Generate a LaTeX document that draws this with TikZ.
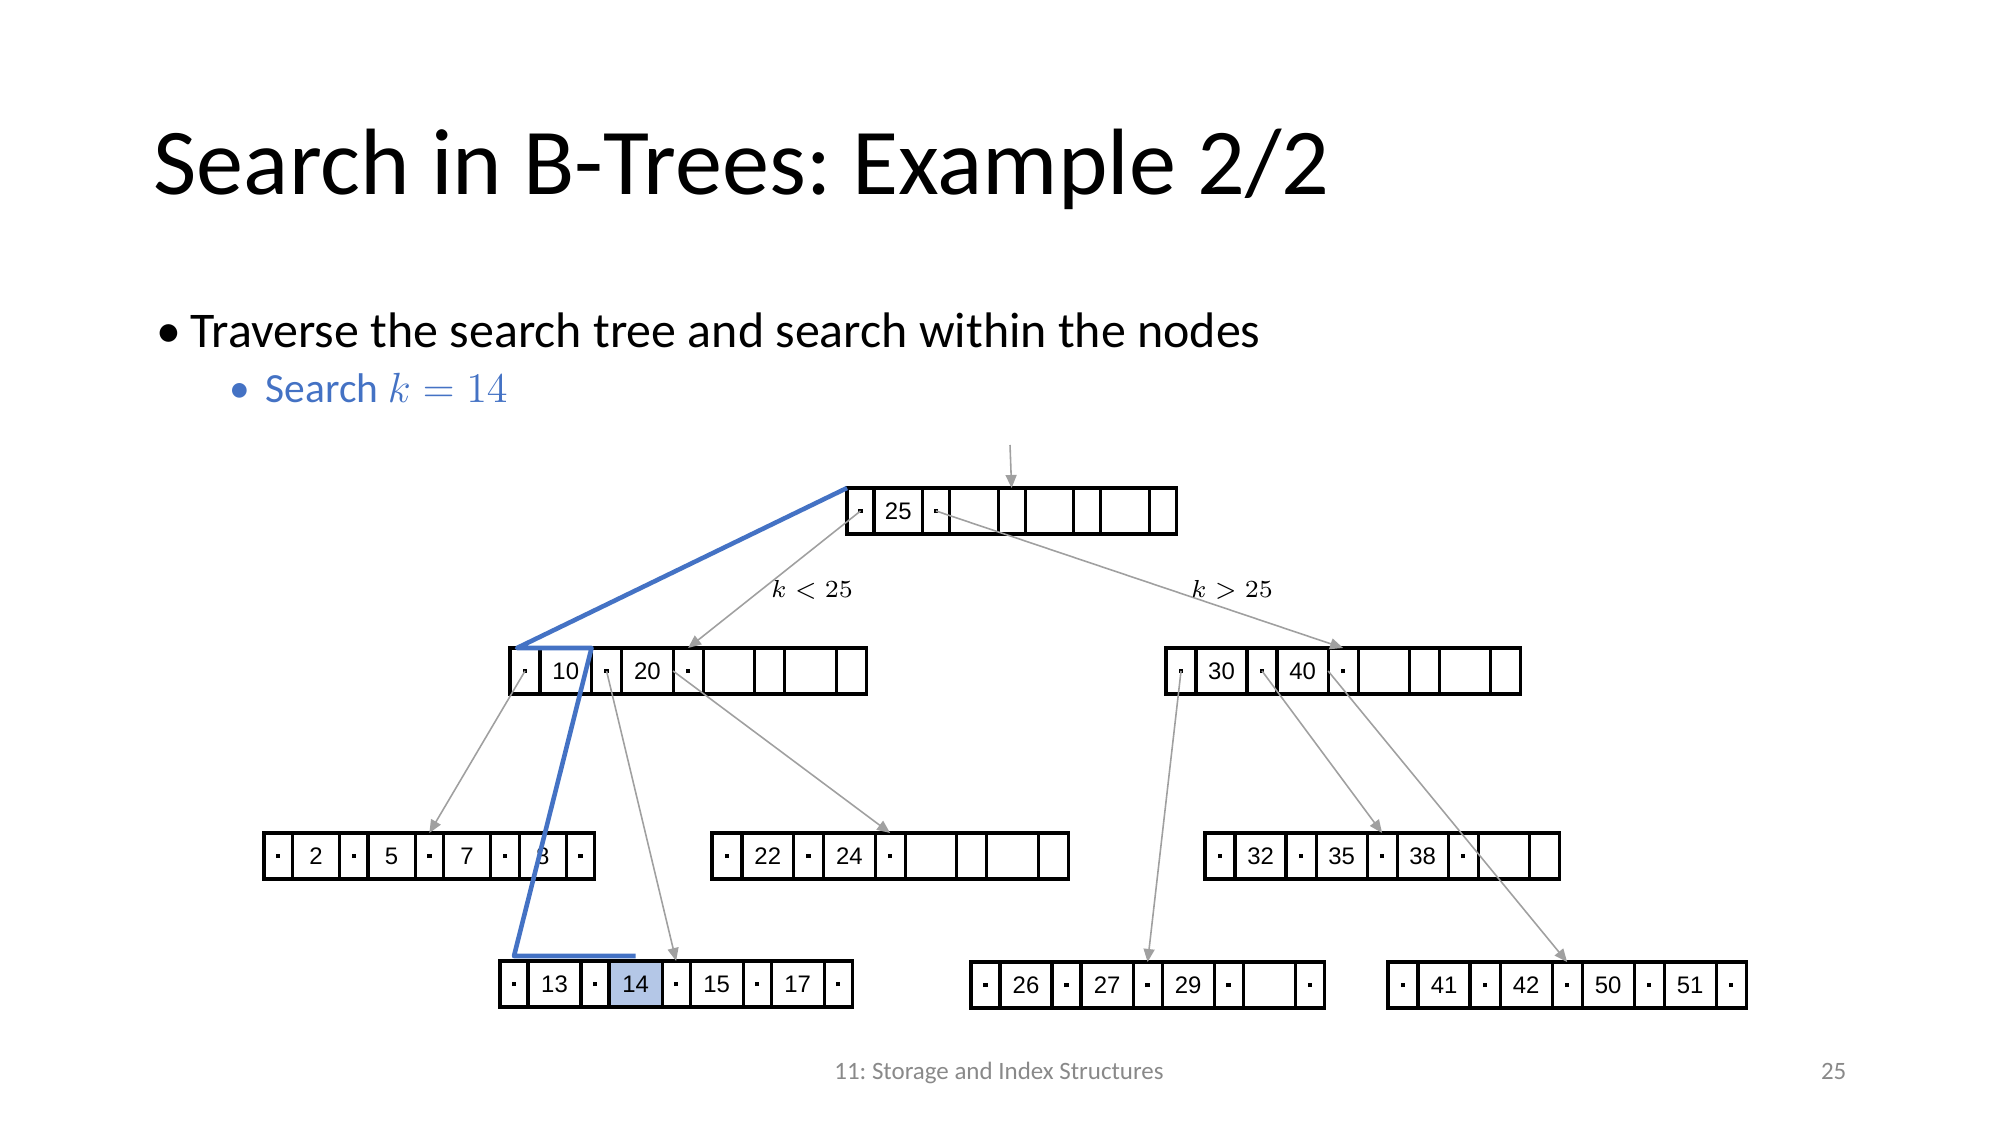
\documentclass[tikz,border=0pt]{standalone}
\usepackage{fontspec}
\setmainfont{Carlito}
\newfontfamily\cellfont{Liberation Sans}
\usetikzlibrary{positioning,arrows.meta,backgrounds}
\frenchspacing

\definecolor{pathblue}{RGB}{68,114,196}
\definecolor{linkgray}{RGB}{160,160,160}
\definecolor{hlblue}{RGB}{180,199,231}
\definecolor{footgray}{RGB}{137,137,137}

\tikzset{
  cell/.style={draw, line width=0.9pt, inner sep=0pt, outer sep=0pt, minimum height=0.46cm, font=\cellfont\fontsize{6.8}{8}\selectfont},
  link/.style={draw=linkgray, line width=0.45pt, -{Triangle[length=0.13cm,width=0.11cm]}},
  lbl/.style={font=\fontsize{6.9}{8}\selectfont},
  txt/.style={anchor=base west, inner sep=0pt},
  searchpath/.style={draw=pathblue, line width=1.3pt, line join=round},
}

% pointer dot
\newcommand{\pd}{\rule{1.25pt}{1.25pt}}

% one B-tree page: name, left x, centre y, pointer width, key width, 9 cells
\newcommand{\bnode}[6]{%
  \foreach \txt [count=\i from 0] in {#6}{%
    \ifnum\i=0
      \node[cell, minimum width=#4, anchor=west] (#1-0) at (#2,#3) {\txt};
    \else
      \pgfmathtruncatemacro{\prev}{\i-1}%
      \ifodd\i
        \node[cell, minimum width=#5, right=0pt of #1-\prev] (#1-\i) {\txt};
      \else
        \node[cell, minimum width=#4, right=0pt of #1-\prev] (#1-\i) {\txt};
      \fi
    \fi
  }%
}

\begin{document}
\begin{tikzpicture}[x=0.01cm, y=-0.01cm]
\useasboundingbox (0,0) rectangle (2000,1125);

\node[txt, font=\fontsize{26.8}{32}\selectfont] (title) at (153,195) {Search in B-Trees: Example 2/2};
\node[txt, font=\fontsize{14.2}{17}\selectfont] (b1) at (156,348) {•};
\node[txt, font=\fontsize{14.2}{17}\selectfont] (t1) at (190,348) {Traverse the search tree and search within the nodes};
\node[txt, font=\fontsize{11.8}{14}\selectfont, text=pathblue] (b2) at (229,403) {•};
\node[txt, font=\fontsize{11.8}{14}\selectfont, text=pathblue] (t2) at (265,403) {Search $k=14$};

\bnode{root}{847}{511}{0.27cm}{0.485cm}{\pd,25,\pd,{},{},{},{},{},{}}
\bnode{l2l}{510}{671}{0.30cm}{0.515cm}{\pd,10,\pd,20,\pd,{},{},{},{}}
\bnode{l2r}{1166}{671}{0.30cm}{0.51cm}{\pd,30,\pd,40,\pd,{},{},{},{}}
\bnode{l3l}{264}{856}{0.285cm}{0.47cm}{\pd,2,\pd,5,\pd,7,\pd,8,\pd}
\bnode{l3m}{712}{856}{0.30cm}{0.515cm}{\pd,22,\pd,24,\pd,{},{},{},{}}
\bnode{l3r}{1205}{856}{0.30cm}{0.51cm}{\pd,32,\pd,35,\pd,38,\pd,{},{}}
\bnode{leafl}{500}{984}{0.28cm}{0.53cm}{\pd,13,\pd,14,\pd,15,\pd,17,\pd}
\bnode{leafm}{971}{985}{0.29cm}{0.52cm}{\pd,26,\pd,27,\pd,29,\pd,{},\pd}
\bnode{leafr}{1388}{985}{0.30cm}{0.52cm}{\pd,41,\pd,42,\pd,50,\pd,51,\pd}

\begin{pgfonlayer}{background}
\fill[hlblue] (leafl-3.south west) rectangle (leafl-3.north east);
\end{pgfonlayer}

\coordinate (entry) at (1010,445);
\draw[link] (entry) -- (root-4.north);
\draw[link] (root-0.center) -- (l2l-4.north);
\draw[link] (root-2.center) -- (l2r-4.north);
\draw[link] (l2l-0.center) -- (l3l-4.north);
\draw[link] (l2l-2.center) -- (leafl-4.north);
\draw[link] (l2l-4.west) -- (l3m-4.north);
\draw[link] (l2r-0.center) -- (leafm-4.north);
\draw[link] (l2r-2.center) -- (l3r-4.north);
\draw[link] (l2r-4.west) -- (leafr-4.north);

\node[lbl] (lt) at (812,590) {$k<25$};
\node[lbl] (gt) at (1232,590) {$k>25$};

\draw[searchpath] (root-0.north west) -- ([xshift=0.07cm]l2l-0.north west) -- (l2l-1.north east)
  -- ([yshift=0.05cm]leafl-0.north) -- ([yshift=0.05cm]leafl-3.north);

\node[anchor=base, inner sep=0pt, font=\fontsize{7.1}{9}\selectfont, text=footgray] (foot) at (999,1079) {11: Storage and Index Structures};
\node[anchor=base east, inner sep=0pt, font=\fontsize{7.1}{9}\selectfont, text=footgray] (page) at (1847,1079) {25};
\end{tikzpicture}
\end{document}
